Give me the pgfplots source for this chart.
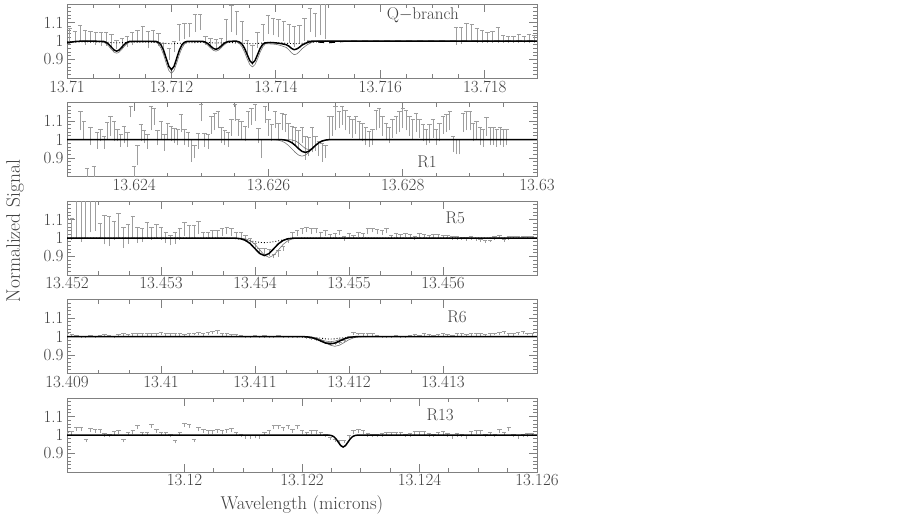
\documentclass[border=0pt]{standalone}
\usepackage{pgfplots}
\usepackage{pgfplotstable}
\pgfplotsset{compat=1.18}

% x of every panel: wavelength minus the panel's left edge, in 0.001 microns
% Q-branch data (edge 13.71): x, top of error bar, bottom of error bar
\pgfplotstableread{
x hi lo
0.05 1.067 0.985
0.15 1.054 0.99
0.25 1.084 1.0
0.35 1.060 0.98
0.45 1.053 0.99
0.55 1.046 0.98
0.65 1.046 0.975
0.75 1.046 0.975
0.85 1.037 0.97
0.95 1.002 0.955
1.05 1.014 0.96
1.15 1.028 0.97
1.25 1.046 0.98
1.35 1.060 0.99
1.45 1.077 1.0
1.55 1.054 0.96
1.65 1.060 0.99
1.75 1.040 0.975
1.85 0.985 0.93
1.95 0.960 0.90
2.05 0.996 0.94
2.15 1.090 1.0
2.25 1.095 1.01
2.35 1.098 1.02
2.45 1.142 1.05
2.55 1.147 1.06
2.65 1.028 0.98
2.75 1.014 0.96
2.85 1.007 0.95
2.95 1.014 0.96
3.05 1.116 1.0
3.15 1.195 1.05
3.25 1.160 1.03
3.35 1.107 0.99
3.45 1.002 0.93
3.55 0.975 0.87
3.65 1.046 0.96
3.75 1.090 1.0
3.85 1.137 1.04
3.95 1.125 1.03
4.05 1.116 1.02
4.15 1.107 1.0
4.25 1.090 0.99
4.35 1.080 0.97
4.45 1.084 0.99
4.55 1.125 1.0
4.65 1.177 1.05
4.75 1.150 1.02
4.85 1.30 1.03
4.95 1.30 1.01
7.45 1.072 0.98
7.55 1.072 0.985
7.65 1.098 1.0
7.75 1.090 1.0
7.85 1.067 0.99
7.95 1.060 0.99
8.05 1.046 0.99
8.15 1.054 0.99
8.25 1.072 0.99
8.35 1.032 0.99
8.45 1.025 0.99
8.55 1.025 0.99
8.65 1.037 0.99
8.75 1.025 0.99
8.85 1.037 0.99
8.95 1.032 0.99
}\qdata

% R1 (edge 13.623)
\pgfplotstableread{
x hi lo
0.2 1.153 1.05
0.25 1.10 1.0
0.3 0.842 0.78
0.35 1.065 0.97
0.4 0.854 0.78
0.45 1.04 0.95
0.5 1.056 0.99
0.55 1.02 0.95
0.6 1.095 1.0
0.65 1.126 1.02
0.7 1.10 0.99
0.75 1.056 0.99
0.8 1.03 0.96
0.85 1.07 0.98
0.9 1.04 0.96
0.95 1.182 1.12
1.0 0.854 0.78
1.05 0.968 0.86
1.1 1.082 0.99
1.15 1.05 0.98
1.2 1.03 0.95
1.25 1.18 1.05
1.3 1.17 1.08
1.35 1.05 0.97
1.4 1.10 1.0
1.45 1.03 0.94
1.5 1.09 1.0
1.55 1.074 0.99
1.6 1.06 0.98
1.65 1.056 0.97
1.7 1.135 1.04
1.75 1.056 0.97
1.8 1.04 0.96
1.85 1.0 0.88
1.9 0.97 0.90
1.95 1.035 0.95
2.0 1.188 1.1
2.05 1.035 0.96
2.1 1.03 0.95
2.15 1.126 1.03
2.2 1.144 1.05
2.25 1.153 1.06
2.3 1.065 0.98
2.35 1.05 0.97
2.4 1.04 0.96
2.45 1.11 1.02
2.5 1.188 1.1
2.55 1.11 1.02
2.6 1.10 1.0
2.65 1.074 0.99
2.7 1.153 1.06
2.75 1.17 1.08
2.8 1.188 1.1
2.85 1.06 0.98
2.9 1.0 0.9
2.95 1.18 1.09
3.0 1.11 1.02
3.05 1.082 0.99
3.1 1.153 1.06
3.15 1.09 1.0
3.2 1.144 1.05
3.25 1.135 1.04
3.3 1.09 1.0
3.35 1.074 0.98
3.4 1.065 0.97
3.45 1.05 0.96
3.5 1.065 0.98
3.55 1.02 0.89
3.6 1.01 0.91
3.65 1.065 0.93
3.7 1.02 0.94
3.75 0.99 0.91
3.8 0.977 0.88
3.85 0.97 0.9
3.9 1.126 1.0
3.95 1.126 1.02
4.0 1.18 1.05
4.05 1.153 1.06
4.1 1.18 1.08
4.15 1.16 1.05
4.2 1.126 1.03
4.25 1.11 1.01
4.3 1.126 1.03
4.35 1.10 1.0
4.4 1.09 0.99
4.45 1.065 0.97
4.5 1.047 0.96
4.55 1.056 0.97
4.6 1.16 1.05
4.65 1.17 1.06
4.7 1.126 1.02
4.75 1.09 1.0
4.8 1.065 0.98
4.85 1.11 1.01
4.9 1.126 1.03
4.95 1.153 1.04
5.0 1.17 1.06
5.05 1.16 1.05
5.1 1.126 1.02
5.15 1.11 1.0
5.2 1.144 1.04
5.25 1.11 1.01
5.3 1.082 0.99
5.35 1.056 0.97
5.4 1.082 0.98
5.45 1.11 1.01
5.5 1.056 0.97
5.55 1.09 0.99
5.6 1.126 1.03
5.65 1.135 1.04
5.7 1.153 1.05
5.75 1.02 0.93
5.8 1.0 0.92
5.85 1.0 0.92
5.9 1.144 1.04
5.95 1.153 1.05
6.0 1.153 1.05
6.05 1.09 0.99
6.1 1.10 1.0
6.15 1.065 0.97
6.2 1.056 0.96
6.25 1.118 1.02
6.3 1.065 0.97
6.35 1.065 0.97
6.4 1.056 0.96
6.45 1.065 0.97
6.5 1.056 0.96
6.55 1.056 0.97
}\rone

% R5 (edge 13.452)
\pgfplotstableread{
x hi lo
0.0 1.108 1.0
0.05 1.108 0.99
0.1 1.3 1.0
0.15 1.3 0.98
0.2 1.3 1.0
0.25 1.3 1.03
0.3 1.3 1.04
0.35 1.08 1.0
0.4 1.125 0.965
0.45 1.117 0.956
0.5 1.09 0.99
0.55 1.134 1.0
0.6 1.058 0.947
0.65 1.075 0.97
0.7 1.117 1.0
0.75 1.058 0.975
0.8 1.05 0.98
0.85 1.083 1.0
0.9 1.058 0.99
0.95 1.075 1.0
1.0 1.058 0.99
1.05 1.032 0.975
1.1 1.015 0.96
1.15 1.032 0.97
1.2 1.05 0.99
1.25 1.083 1.01
1.3 1.066 1.0
1.35 1.066 1.0
1.4 1.09 1.02
1.45 1.032 1.0
1.5 1.032 1.0
1.55 1.04 1.0
1.6 1.04 1.0
1.65 1.05 1.01
1.7 1.058 1.02
1.75 1.05 1.01
1.8 1.032 1.0
1.85 1.032 0.995
1.9 1.015 0.98
1.95 0.998 0.965
2.0 0.973 0.945
2.05 0.947 0.92
2.1 0.947 0.905
2.15 0.939 0.905
2.2 0.914 0.89
2.25 0.934 0.9
2.3 0.956 0.93
2.35 0.998 0.975
2.4 1.03 1.0
2.45 1.04 1.01
2.5 1.05 1.02
2.55 1.058 1.03
2.6 1.05 1.02
2.65 1.053 1.025
2.7 1.032 1.0
2.75 1.04 1.01
2.8 1.02 0.995
2.85 1.024 1.0
2.9 1.04 1.015
2.95 1.007 0.985
3.0 1.024 1.0
3.05 1.015 0.995
3.1 1.032 1.005
3.15 1.028 1.005
3.2 1.05 1.02
3.25 1.055 1.03
3.3 1.045 1.02
3.35 1.04 1.015
3.4 1.05 1.025
3.45 1.015 0.995
3.5 1.024 1.0
3.55 1.02 0.995
3.6 1.028 1.005
3.65 1.02 0.995
3.7 1.007 0.99
3.75 1.024 1.0
3.8 1.02 0.995
3.85 1.015 0.995
3.9 1.02 1.0
3.95 1.02 1.0
4.0 1.015 0.995
4.05 1.015 0.995
4.1 1.01 0.99
4.15 1.007 0.99
4.2 1.005 0.99
4.25 1.002 0.985
4.3 1.007 0.99
4.35 0.998 0.985
4.4 0.995 0.98
4.45 0.985 0.975
4.5 0.99 0.98
4.55 1.007 0.99
4.6 1.012 0.995
4.65 0.995 0.98
4.7 1.007 0.99
4.75 1.007 0.995
4.8 1.01 0.995
4.85 1.007 0.995
4.9 1.01 0.995
4.95 1.007 0.995
}\rfive

% R6 (edge 13.409)
\pgfplotstableread{
x hi lo
0.0 1.018 1.0
0.05 1.012 0.998
0.1 1.005 0.995
0.15 1.0 0.99
0.2 1.0 0.99
0.25 1.005 0.995
0.3 1.003 0.993
0.35 1.005 0.995
0.4 1.01 1.0
0.45 1.008 0.998
0.5 1.0 0.99
0.55 1.01 0.998
0.6 1.015 1.0
0.65 1.012 1.0
0.7 1.016 1.002
0.75 1.02 1.005
0.8 1.018 1.004
0.85 1.015 1.0
0.9 1.02 1.005
0.95 1.018 1.005
1.0 1.022 1.008
1.05 1.02 1.005
1.1 1.015 1.0
1.15 1.02 1.005
1.2 1.018 1.004
1.25 1.01 0.998
1.3 1.015 1.0
1.35 1.02 1.006
1.4 1.022 1.008
1.45 1.018 1.004
1.5 1.024 1.01
1.55 1.03 1.012
1.6 1.035 1.015
1.65 1.02 1.005
1.7 1.015 1.0
1.75 1.01 0.998
1.8 1.012 1.0
1.85 1.005 0.995
1.9 1.0 0.99
1.95 1.002 0.992
2.0 1.005 0.995
2.05 1.0 0.99
2.1 1.005 0.994
2.15 1.0 0.99
2.2 1.003 0.993
2.25 1.005 0.995
2.3 1.002 0.992
2.35 1.0 0.99
2.4 1.002 0.992
2.45 1.0 0.99
2.5 1.002 0.992
2.55 0.998 0.988
2.6 0.992 0.982
2.65 0.985 0.975
2.7 0.978 0.968
2.75 0.97 0.96
2.8 0.967 0.955
2.85 0.965 0.952
2.9 0.97 0.958
2.95 0.982 0.97
3.0 1.0 0.99
3.05 1.022 1.008
3.1 1.02 1.006
3.15 1.018 1.004
3.2 1.015 1.002
3.25 1.018 1.004
3.3 1.005 0.995
3.35 1.003 0.993
3.4 1.0 0.99
3.45 1.002 0.992
3.5 1.005 0.995
3.55 1.0 0.99
3.6 1.003 0.993
3.65 1.008 0.998
3.7 1.01 1.0
3.75 1.005 0.995
3.8 1.015 1.002
3.85 1.01 0.998
3.9 1.005 0.995
3.95 1.012 1.0
4.0 1.018 1.004
4.05 1.01 0.998
4.1 1.008 0.998
4.15 1.02 1.005
4.2 1.015 1.002
4.25 1.012 1.0
4.3 1.015 1.002
4.35 1.018 1.004
4.4 1.015 1.002
4.45 1.012 1.0
4.5 1.018 1.004
4.55 1.02 1.006
4.6 1.022 1.008
4.65 1.028 1.012
4.7 1.018 1.004
4.75 1.015 1.002
4.8 1.025 1.01
4.85 1.028 1.012
4.9 1.02 1.006
4.95 1.015 1.002
}\rsix

% R13 (edge 13.118)
\pgfplotstableread{
x hi lo
0.0 1.014 0.996
0.08 1.02 1.0
0.16 1.041 1.02
0.24 1.041 1.02
0.32 0.979 0.962
0.4 1.036 1.015
0.48 1.032 1.012
0.56 1.03 1.01
0.64 1.009 0.99
0.72 1.005 0.988
0.8 1.02 1.0
0.88 1.027 1.008
0.96 0.979 0.962
1.04 1.014 0.996
1.12 1.023 1.004
1.2 1.05 1.03
1.28 1.014 0.996
1.36 1.014 0.996
1.44 1.059 1.038
1.52 1.032 1.012
1.6 1.014 0.996
1.68 1.014 0.996
1.76 1.005 0.988
1.84 0.97 0.955
1.92 1.014 0.996
2.0 1.064 1.042
2.08 1.059 1.038
2.16 0.979 0.962
2.24 1.041 1.02
2.32 1.032 1.012
2.4 1.023 1.004
2.48 1.023 1.004
2.56 1.032 1.012
2.64 1.027 1.008
2.72 1.032 1.012
2.8 1.036 1.015
2.88 1.014 0.996
2.96 1.005 0.988
3.04 0.996 0.98
3.12 0.996 0.98
3.2 1.0 0.983
3.28 0.996 0.98
3.36 1.014 0.996
3.44 1.023 1.004
3.52 1.05 1.03
3.6 1.05 1.03
3.68 1.041 1.02
3.76 1.05 1.03
3.84 1.032 1.012
3.92 1.05 1.03
4.0 1.023 1.004
4.08 1.014 0.996
4.16 1.023 1.004
4.24 1.023 1.004
4.32 1.014 0.996
4.4 1.005 0.988
4.48 0.99 0.974
4.56 0.979 0.963
4.64 0.97 0.955
4.72 0.972 0.957
4.8 1.0 0.983
4.88 1.023 1.004
4.96 1.032 1.012
5.04 1.023 1.004
5.12 1.009 0.99
5.2 1.005 0.988
5.28 1.005 0.988
5.36 1.009 0.99
5.44 1.014 0.996
5.52 1.014 0.996
5.6 1.014 0.996
5.68 1.014 0.996
5.76 1.005 0.988
5.84 1.009 0.99
5.92 1.02 1.0
6.0 1.018 1.0
6.08 1.02 1.0
6.16 1.009 0.99
6.24 1.005 0.988
6.32 1.014 0.996
6.4 1.02 1.0
6.48 1.009 0.99
6.56 0.996 0.98
6.64 1.009 0.99
6.72 1.005 0.988
6.8 0.996 0.98
6.88 1.02 1.0
6.96 1.027 1.008
7.04 1.023 1.004
7.12 1.005 0.988
7.2 1.014 0.996
7.28 1.005 0.988
7.36 1.032 1.012
7.44 1.014 0.996
7.52 1.041 1.02
7.6 1.005 0.988
7.68 0.996 0.98
7.76 1.005 0.988
7.84 1.009 0.99
7.92 1.01 0.992
}\rthirteen

\newcommand\tfont{\fontsize{17}{20}\selectfont}

\pgfplotsset{
  panel/.style={
    scale only axis, width=470pt, height=74pt,
    ymin=0.8, ymax=1.2,
    ytick={0.9,1,1.1}, yticklabels={0.9,1,1.1},
    minor ytick={0.82,0.84,0.86,0.88,0.92,0.94,0.96,0.98,1.02,1.04,1.06,1.08,1.12,1.14,1.16,1.18},
    tick align=inside, major tick length=8pt, minor tick length=4pt,
    axis line style={black!50, line width=0.8pt},
    every tick/.style={black!50, line width=0.8pt},
    tick label style={font=\tfont, text=black!75},
    xticklabel style={yshift=1pt},
    clip=true},
  dat/.style={draw=none, mark=none,
    error bars/.cd, y dir=plus, y explicit, error mark=|,
    error bar style={draw=black!38, line width=0.6pt},
    error mark options={draw=black!38, line width=0.6pt, mark size=2.2pt}},
  mdl/.style={black, line width=1.5pt, mark=none},
  mdg/.style={black!55, line width=0.6pt, mark=none},
  mdd/.style={black, line width=0.9pt, dotted, mark=none},
}

\begin{document}
\begin{tikzpicture}
\path[use as bounding box] (0,0) rectangle (903pt,-523pt);

% Q-branch
\begin{axis}[panel, at={(67pt,-4pt)}, anchor=north west,
  xmin=0, xmax=9, xtick={0,2,4,6,8},
  xticklabels={13.71,13.712,13.714,13.716,13.718},
  minor x tick num=3]
\addplot[dat] table[x=x, y=lo, y error expr=\thisrow{hi}-\thisrow{lo}] {\qdata};
\addplot[mdd] coordinates {(0,0.995)(0.6,0.995)(0.95,0.99)(1.3,0.994)(1.7,0.993)(2,0.985)(2.3,0.99)(2.6,0.993)(2.85,0.989)(3.1,0.992)(3.55,0.985)(3.8,0.99)(4.1,0.99)(4.35,0.985)(4.6,0.99)(4.8,0.996)(5,1)};
\addplot[black, line width=1pt, dash pattern=on 6pt off 5pt] coordinates {(4.6,1)(4.8,0.994)(5,0.99)(5.2,0.995)(5.4,1)(9,1)};
\addplot[mdg] coordinates {(0,0.987)(0.15,0.996)(0.3,1)(0.6,0.9993)(0.65,0.9978)(0.7,0.9938)(0.75,0.9855)(0.8,0.9718)(0.85,0.9548)(0.9,0.94)(0.95,0.934)(1,0.94)(1.05,0.9548)(1.1,0.9718)(1.15,0.9855)(1.2,0.9938)(1.25,0.9978)(1.3,0.9993)(1.65,0.9983)(1.7,0.9942)(1.75,0.9836)(1.8,0.9615)(1.85,0.9253)(1.9,0.8801)(1.95,0.8408)(2,0.825)(2.05,0.8408)(2.1,0.8801)(2.15,0.9253)(2.2,0.9615)(2.25,0.9836)(2.3,0.9942)(2.35,0.9983)(2.5,0.9995)(2.55,0.9982)(2.6,0.9948)(2.65,0.9879)(2.7,0.9765)(2.75,0.9623)(2.8,0.95)(2.85,0.945)(2.9,0.95)(2.95,0.9623)(3,0.9765)(3.05,0.9879)(3.1,0.9948)(3.15,0.9982)(3.2,0.998)(3.25,0.9954)(3.3,0.9868)(3.35,0.9692)(3.4,0.9402)(3.45,0.9041)(3.5,0.8726)(3.55,0.86)(3.6,0.8726)(3.65,0.9041)(3.7,0.9402)(3.75,0.9692)(3.8,0.985)(3.9,0.984)(4,0.982)(4.1,0.975)(4.2,0.965)(4.25,0.952)(4.3,0.936)(4.35,0.926)(4.4,0.93)(4.45,0.942)(4.5,0.958)(4.6,0.98)(4.7,0.994)(4.8,1)(9,1)};
\addplot[mdl] coordinates {(0,0.99)(0.15,0.997)(0.3,1)(0.7,0.998)(0.75,0.9926)(0.8,0.9821)(0.85,0.9666)(0.9,0.9515)(0.95,0.945)(1,0.9515)(1.05,0.9666)(1.1,0.9821)(1.15,0.9926)(1.2,0.998)(1.7,0.998)(1.75,0.9932)(1.8,0.979)(1.85,0.9497)(1.9,0.906)(1.95,0.8632)(2,0.845)(2.05,0.8632)(2.1,0.906)(2.15,0.9497)(2.2,0.979)(2.25,0.9932)(2.3,0.998)(2.6,0.998)(2.65,0.9939)(2.7,0.9854)(2.75,0.9727)(2.8,0.9603)(2.85,0.955)(2.9,0.9603)(2.95,0.9727)(3,0.9854)(3.05,0.9939)(3.1,0.998)(3.2,0.999)(3.25,0.9987)(3.3,0.9947)(3.35,0.9838)(3.4,0.961)(3.45,0.9272)(3.5,0.8941)(3.55,0.88)(3.6,0.8941)(3.65,0.9272)(3.7,0.961)(3.75,0.983)(3.8,0.99)(3.9,0.992)(4,0.99)(4.1,0.986)(4.2,0.98)(4.25,0.972)(4.3,0.96)(4.35,0.953)(4.4,0.957)(4.45,0.966)(4.5,0.978)(4.6,0.992)(4.7,1)(9,1)};
\node[font=\tfont, text=black!75] at (rel axis cs:0.757,0.85) {Q$-$branch};
\end{axis}

% R1
\begin{axis}[panel, at={(67pt,-102.5pt)}, anchor=north west,
  xmin=0, xmax=7, xtick={1,3,5,7},
  xticklabels={13.624,13.626,13.628,13.63},
  minor x tick num=3]
\addplot[dat] table[x=x, y=lo, y error expr=\thisrow{hi}-\thisrow{lo}] {\rone};
\addplot[mdg] coordinates {(0,1)(3.05,0.9995)(3.1,0.9985)(3.15,0.996)(3.2,0.9909)(3.25,0.9817)(3.3,0.9676)(3.35,0.9493)(3.4,0.9303)(3.45,0.9156)(3.5,0.91)(3.55,0.9156)(3.6,0.9303)(3.65,0.9493)(3.7,0.9676)(3.75,0.9817)(3.8,0.9909)(3.85,0.996)(3.9,0.9985)(3.95,0.9995)(7,1)};
\addplot[mdg] coordinates {(0,1)(3.3,0.9994)(3.35,0.9976)(3.4,0.9926)(3.45,0.9821)(3.5,0.9666)(3.55,0.9515)(3.6,0.945)(3.65,0.9515)(3.7,0.9666)(3.75,0.9821)(3.8,0.9926)(3.85,0.9976)(3.9,0.9994)(7,1)};
\addplot[mdl] coordinates {(0,1)(3.2,0.999)(3.25,0.9969)(3.3,0.992)(3.35,0.9825)(3.4,0.968)(3.45,0.9505)(3.5,0.9358)(3.55,0.93)(3.6,0.9358)(3.65,0.9505)(3.7,0.968)(3.75,0.9825)(3.8,0.992)(3.85,0.9969)(3.9,0.999)(7,1)};
\node[font=\tfont, text=black!75] at (rel axis cs:0.766,0.2) {R1};
\end{axis}

% R5
\begin{axis}[panel, at={(67pt,-201pt)}, anchor=north west,
  xmin=0, xmax=5, xtick={0,1,2,3,4},
  xticklabels={13.452,13.453,13.454,13.455,13.456},
  minor x tick num=2]
\addplot[dat] table[x=x, y=lo, y error expr=\thisrow{hi}-\thisrow{lo}] {\rfive};
\addplot[mdd] coordinates {(0,1)(1.65,0.9997)(1.7,0.9993)(1.75,0.9984)(1.8,0.9966)(1.85,0.9938)(1.9,0.9897)(1.95,0.9848)(2,0.98)(2.05,0.9764)(2.1,0.975)(2.15,0.9764)(2.2,0.98)(2.25,0.9848)(2.3,0.9897)(2.35,0.9938)(2.4,0.9966)(2.45,0.9984)(2.5,0.9993)(2.55,0.9997)(5,1)};
\addplot[mdg] coordinates {(0,1)(1.85,0.9988)(1.9,0.9954)(1.95,0.9858)(2,0.9659)(2.05,0.9363)(2.1,0.9073)(2.15,0.895)(2.2,0.9073)(2.25,0.9363)(2.3,0.9659)(2.35,0.9858)(2.4,0.9954)(2.45,0.9988)(5,1)};
\addplot[mdl] coordinates {(0,1)(1.8,0.999)(1.85,0.9958)(1.9,0.9871)(1.95,0.9692)(2,0.9424)(2.05,0.9162)(2.1,0.905)(2.15,0.9162)(2.2,0.9424)(2.25,0.9692)(2.3,0.9871)(2.35,0.9958)(2.4,0.999)(5,1)};
\node[font=\tfont, text=black!75] at (rel axis cs:0.826,0.77) {R5};
\end{axis}

% R6
\begin{axis}[panel, at={(67pt,-299.5pt)}, anchor=north west,
  xmin=0, xmax=5, xtick={0,1,2,3,4},
  xticklabels={13.409,13.41,13.411,13.412,13.413},
  minor x tick num=2]
\addplot[dat] table[x=x, y=lo, y error expr=\thisrow{hi}-\thisrow{lo}] {\rsix};
\addplot[mdd] coordinates {(0,1)(2.4,0.9998)(2.45,0.9994)(2.5,0.9981)(2.6,0.9955)(2.7,0.9915)(2.75,0.9876)(2.8,0.986)(2.85,0.9876)(2.9,0.9915)(3,0.9955)(3.1,0.9981)(3.15,0.9994)(3.2,0.9998)(5,1)};
\addplot[mdg] coordinates {(0,1)(2.55,0.9994)(2.6,0.9977)(2.65,0.9928)(2.7,0.9828)(2.75,0.9679)(2.8,0.9532)(2.85,0.947)(2.9,0.9532)(2.95,0.9679)(3,0.9828)(3.05,0.9928)(3.1,0.9977)(3.15,0.9994)(5,1)};
\addplot[mdg] coordinates {(0,1)(2.5,0.9997)(2.55,0.9988)(2.6,0.9962)(2.65,0.9909)(2.7,0.983)(2.75,0.9753)(2.8,0.972)(2.85,0.9753)(2.9,0.983)(2.95,0.9909)(3,0.9962)(3.05,0.9988)(3.1,0.9997)(5,1)};
\addplot[mdl] coordinates {(0,1)(2.5,0.9996)(2.55,0.9982)(2.6,0.9946)(2.65,0.987)(2.7,0.9757)(2.75,0.9647)(2.8,0.96)(2.85,0.9647)(2.9,0.9757)(2.95,0.987)(3,0.9946)(3.05,0.9982)(3.1,0.9996)(5,1)};
\node[font=\tfont, text=black!75] at (rel axis cs:0.83,0.76) {R6};
\end{axis}

% R13
\begin{axis}[panel, at={(67pt,-398pt)}, anchor=north west,
  xmin=0, xmax=8, xtick={2,4,6,8},
  xticklabels={13.12,13.122,13.124,13.126},
  minor x tick num=3]
\addplot[dat] table[x=x, y=lo, y error expr=\thisrow{hi}-\thisrow{lo}] {\rthirteen};
\addplot[mdl] coordinates {(0,1)(4.46,0.9993)(4.5,0.9971)(4.54,0.9912)(4.58,0.9789)(4.62,0.9606)(4.66,0.9426)(4.7,0.935)(4.74,0.9426)(4.78,0.9606)(4.82,0.9789)(4.86,0.9912)(4.9,0.9971)(4.94,0.9993)(8,1)};
\node[font=\tfont, text=black!75] at (rel axis cs:0.794,0.77) {R13};
\end{axis}

\node[rotate=90, font=\fontsize{19.5}{22}\selectfont, text=black!75] at (15pt,-231pt) {Normalized Signal};
\node[font=\fontsize{18.5}{22}\selectfont, text=black!75] at (302pt,-505pt) {Wavelength (microns)};
\end{tikzpicture}
\end{document}
